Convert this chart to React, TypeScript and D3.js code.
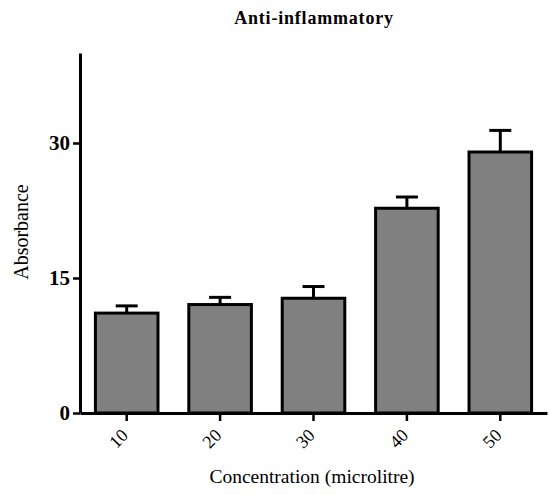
import React, { useRef, useEffect } from 'react';
import * as d3 from 'd3';

// Data
const categories = ['10', '20', '30', '40', '50'];
const means = [11.1, 12.05, 12.75, 22.75, 29.0];
const errors = [0.8, 0.8, 1.3, 1.25, 2.4];
const yTicks = [0, 15, 30];

const App = () => {
    const chartRef = useRef<SVGSVGElement | null>(null);

    useEffect(() => {
        const width = 549;
        const height = 495;
        const margin = { top: 53, right: 2, bottom: 82, left: 80 };

        const svg = d3.select(chartRef.current)
            .attr('width', width)
            .attr('height', height);
        svg.selectAll('*').remove();

        // Scales
        const xScale = d3.scaleBand<string>()
            .domain(categories)
            .range([margin.left, width - margin.right])
            .paddingInner(0.33)
            .paddingOuter(0.165);
        const yScale = d3.scaleLinear()
            .domain([0, 40])
            .range([height - margin.bottom, margin.top]);

        const font = 'Liberation Serif, serif';

        // Bars
        svg.selectAll('.bar')
            .data(categories)
            .enter().append('rect')
            .attr('class', 'bar')
            .attr('x', d => xScale(d)!)
            .attr('y', (d, i) => yScale(means[i]))
            .attr('width', xScale.bandwidth())
            .attr('height', (d, i) => yScale(0) - yScale(means[i]))
            .attr('fill', '#808080')
            .attr('stroke', '#000')
            .attr('stroke-width', 3);

        // Error bars (upper only)
        categories.forEach((c, i) => {
            const cx = xScale(c)! + xScale.bandwidth() / 2;
            const top = yScale(means[i] + errors[i]);
            svg.append('line')
                .attr('x1', cx).attr('x2', cx)
                .attr('y1', yScale(means[i])).attr('y2', top)
                .attr('stroke', '#000').attr('stroke-width', 3);
            svg.append('line')
                .attr('x1', cx - 11).attr('x2', cx + 11)
                .attr('y1', top).attr('y2', top)
                .attr('stroke', '#000').attr('stroke-width', 3);
        });

        // Y axis
        const yAxis = svg.append('g')
            .attr('transform', `translate(${margin.left},0)`)
            .style('font-family', font)
            .call(d3.axisLeft(yScale).tickValues(yTicks).tickSize(7).tickSizeOuter(0).tickPadding(3));
        yAxis.attr('font-family', null);
        yAxis.select('.domain').attr('stroke-width', 3);
        yAxis.selectAll('.tick line').attr('stroke-width', 2.5);
        yAxis.selectAll('.tick text')
            .style('font-family', font)
            .style('font-size', '21px')
            .style('font-weight', 'bold')
            .attr('fill', '#000');

        // X axis
        const xAxis = svg.append('g')
            .attr('transform', `translate(0,${yScale(0)})`)
            .call(d3.axisBottom(xScale).tickSize(8).tickSizeOuter(0));
        xAxis.attr('font-family', null);
        xAxis.select('.domain').attr('stroke-width', 3);
        xAxis.selectAll('.tick line').attr('stroke-width', 2.5);
        xAxis.selectAll('.tick text')
            .style('font-family', font)
            .style('font-size', '18px')
            .attr('fill', '#000')
            .attr('text-anchor', 'end')
            .attr('y', 0)
            .attr('dy', '0.35em')
            .attr('transform', 'translate(-2,19) rotate(-45)');

        // Title
        svg.append('text')
            .attr('x', 314)
            .attr('y', 24)
            .attr('text-anchor', 'middle')
            .style('font-family', font)
            .style('font-size', '18px')
            .style('font-weight', 'bold')
            .style('letter-spacing', '0.8px')
            .text('Anti-inflammatory');

        // Axis labels
        svg.append('text')
            .attr('transform', `translate(28,232) rotate(-90)`)
            .attr('text-anchor', 'middle')
            .style('font-family', font)
            .style('font-size', '20px')
            .text('Absorbance');

        svg.append('text')
            .attr('x', 312)
            .attr('y', 483)
            .attr('text-anchor', 'middle')
            .style('font-family', font)
            .style('font-size', '19.5px')
            .text('Concentration (microlitre)');
    }, []);

    return <svg ref={chartRef} style={{ position: 'absolute', left: 0, top: 0, background: '#fff' }} />;
};

export default App;
